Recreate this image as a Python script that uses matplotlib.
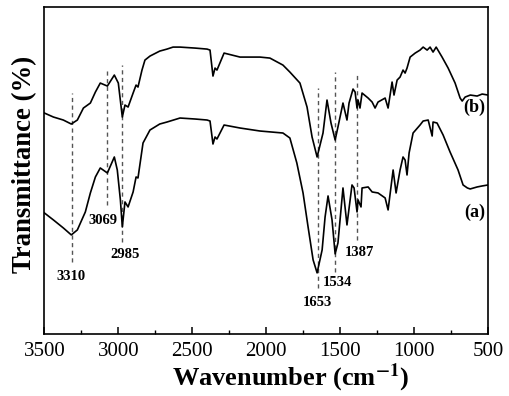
import matplotlib
matplotlib.use("Agg")
import matplotlib.pyplot as plt
from matplotlib.ticker import MultipleLocator

# Spectrum (a), wavenumber (cm-1) vs transmittance (arb. units, offset)
WN_A = [3500, 3439, 3372, 3318, 3277, 3223, 3189, 3155, 3122, 3074, 3027, 3007,
        2986, 2973, 2955, 2934, 2900, 2880, 2867, 2833, 2786, 2720, 2671, 2583,
        2480, 2400, 2380, 2360, 2346, 2333, 2285, 2177, 2042, 1887, 1840, 1793,
        1751, 1717, 1683, 1656, 1622, 1602, 1582, 1555, 1534, 1515, 1481, 1454,
        1420, 1406, 1386, 1379, 1359, 1352, 1311, 1284, 1244, 1196, 1176, 1142,
        1122, 1095, 1075, 1061, 1048, 1034, 1007, 960, 939, 905, 878, 872, 845,
        804, 757, 703, 669, 640, 621, 574, 540, 500]
T_A = [121, 114, 106, 99, 104, 122, 141, 157, 166, 161, 177, 164,
       134, 107, 132, 127, 142, 157, 156, 191, 204, 210, 212, 216,
       215, 214, 213, 190, 197, 195, 209, 206, 203, 201, 196, 171,
       141, 107, 74, 61, 84, 117, 138, 114, 80, 91, 146, 109,
       149, 146, 122, 134, 127, 146, 147, 142, 141, 136, 124, 164,
       141, 164, 177, 174, 159, 181, 201, 209, 213, 214, 198, 212, 211,
       199, 182, 164, 149, 146, 145, 147, 148, 149]

# Spectrum (b)
WN_B = [3500, 3439, 3372, 3318, 3277, 3236, 3189, 3155, 3122, 3074, 3027, 3000,
        2973, 2955, 2934, 2900, 2880, 2867, 2840, 2820, 2786, 2720, 2671, 2630,
        2583, 2480, 2400, 2380, 2360, 2346, 2333, 2285, 2177, 2042, 1975, 1887,
        1840, 1772, 1724, 1690, 1656, 1616, 1589, 1562, 1534, 1515, 1481, 1454,
        1440, 1413, 1399, 1386, 1379, 1366, 1352, 1311, 1284, 1264, 1244, 1196,
        1176, 1149, 1136, 1115, 1095, 1075, 1061, 1048, 1027, 993, 960, 939,
        912, 892, 872, 851, 811, 770, 723, 689, 675, 655, 620, 574, 540, 500]
T_B = [221, 217, 214, 210, 214, 226, 231, 242, 251, 248, 259, 251,
       217, 229, 227, 241, 249, 247, 264, 274, 278, 283, 285, 287,
       287, 286, 285, 284, 258, 266, 264, 281, 277, 277, 276, 269,
       262, 251, 227, 197, 177, 201, 234, 211, 194, 207, 231, 214,
       231, 245, 242, 226, 234, 226, 241, 236, 232, 226, 232, 236,
       226, 252, 239, 254, 257, 264, 261, 266, 277, 281, 284, 287,
       284, 287, 282, 287, 277, 266, 251, 236, 233, 237, 239, 238, 240, 239]

# Marked bands: dashed line position, extent, label text and label position
PEAK_POS = [3315, 3075, 2972, 1653, 1534, 1387]
PEAK_TOP = [241, 265, 269, 246, 262, 262]
PEAK_BOTTOM = [72, 129, 92, 46, 62, 94]
PEAK_LABELS = ["3310", "3069", "2985", "1653", "1534", "1387"]
LABEL_X = [3318, 3102, 2953, 1656, 1521, 1372]
LABEL_Y = [57, 113, 79, 31, 51, 81]

SERIF = ["Liberation Serif", "DejaVu Serif"]
plt.rcParams["mathtext.fontset"] = "stix"

fig = plt.figure(figsize=(5.1, 3.96), dpi=100)
ax = fig.add_axes([0.087, 0.157, 0.870, 0.825])

for x, y0, y1 in zip(PEAK_POS, PEAK_BOTTOM, PEAK_TOP):
    ax.plot([x, x], [y0, y1], color="#555555", lw=1.0, ls=(0, (3, 2.5)))

ax.plot(WN_A, T_A, color="black", lw=1.2, solid_joinstyle="round")
ax.plot(WN_B, T_B, color="black", lw=1.2, solid_joinstyle="round")

for txt, x, y in zip(PEAK_LABELS, LABEL_X, LABEL_Y):
    ax.text(x, y, txt, ha="center", va="center", fontsize=10.5,
            fontweight="bold", family=SERIF)

ax.text(593, 227, "(b)", ha="center", va="center", fontsize=13,
        fontweight="bold", family=SERIF)
ax.text(593, 122, "(a)", ha="center", va="center", fontsize=13,
        fontweight="bold", family=SERIF)

ax.set_xlim(3500, 500)
ax.set_ylim(0, 327)
ax.xaxis.set_major_locator(MultipleLocator(500))
ax.xaxis.set_minor_locator(MultipleLocator(250))
ax.tick_params(axis="x", which="major", direction="in", length=5, width=1.1,
               labelsize=15, pad=6)
ax.tick_params(axis="x", which="minor", direction="in", length=3, width=1.0)
ax.set_yticks([])
for lab in ax.get_xticklabels():
    lab.set_family(SERIF)
for sp in ax.spines.values():
    sp.set_linewidth(1.2)

ax.set_xlabel("Wavenumber (cm$^{\\mathbf{-1}}$)", fontsize=19, fontweight="bold",
              family=SERIF, labelpad=0)
ax.set_ylabel("Transmittance (%)", fontsize=19.3, fontweight="bold",
              family=SERIF, labelpad=5)
ax.xaxis.label.set_x(0.554)
ax.yaxis.label.set_y(0.517)

fig.savefig("out.png", dpi=100)
